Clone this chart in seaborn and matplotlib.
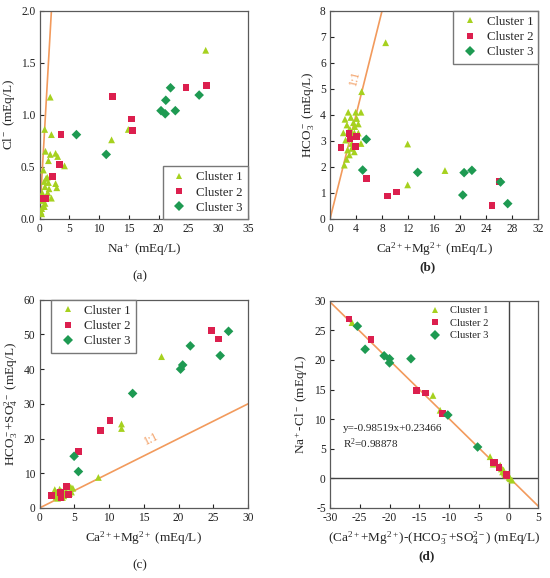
import numpy as np
import pandas as pd
import matplotlib
matplotlib.use("Agg")
import matplotlib.pyplot as plt
import seaborn as sns

# ---------------- data ----------------
CLUSTERS = ["Cluster 1", "Cluster 2", "Cluster 3"]

# (a) Na+ vs Cl-
a_c1_x = [27.9, 1.8, 0.87, 2.0, 14.9, 12.1, 1.0, 1.8, 2.7, 3.05, 1.5, 4.2, 0.65, 1.3, 0.81,
          1.5, 2.7, 2.9, 0.92, 1.6, 0.47, 1.2, 0.64, 0.92, 0.37, 0.81, 0.25, 1.1, 0.36, 0.64,
          0.36, 1.4, 2.0]
a_c1_y = [1.62, 1.17, 0.86, 0.81, 0.86, 0.76, 0.65, 0.62, 0.63, 0.60, 0.56, 0.51, 0.47, 0.40, 0.36,
          0.35, 0.34, 0.30, 0.31, 0.29, 0.25, 0.23, 0.18, 0.15, 0.10, 0.12, 0.07, 0.39, 0.18, 0.12,
          0.05, 0.25, 0.20]
a_c2_x = [24.6, 28.1, 12.3, 15.4, 15.6, 3.6, 3.3, 2.15, 0.5, 0.95]
a_c2_y = [1.26, 1.28, 1.18, 0.96, 0.85, 0.81, 0.52, 0.41, 0.20, 0.20]
a_c3_x = [6.2, 11.2, 20.4, 21.1, 21.2, 22.0, 22.8, 26.8]
a_c3_y = [0.81, 0.62, 1.04, 1.01, 1.14, 1.26, 1.04, 1.19]

# (b) Ca2+ + Mg2+ vs HCO3-
b_c1_x = [8.55, 4.86, 11.93, 17.66, 11.93, 2.8, 3.95, 4.76, 2.3, 3.2, 4.1, 3.6, 2.6, 3.8, 4.35,
          3.07, 2.05, 3.74, 4.35, 4.76, 2.4, 3.33, 2.7, 2.97, 2.56, 2.2, 3.74, 3.33, 3.5, 2.9]
b_c1_y = [6.77, 4.89, 2.88, 1.86, 1.31, 4.1, 4.1, 4.1, 3.83, 3.9, 3.86, 3.7, 3.61, 3.55, 3.65,
          3.44, 3.31, 3.31, 3.3, 2.9, 3.03, 2.9, 2.65, 2.46, 2.29, 2.07, 2.58, 2.71, 3.2, 3.4]
b_c2_x = [2.92, 3.07, 4.1, 3.94, 1.69, 5.58, 8.86, 10.24, 24.9, 25.96]
b_c2_y = [3.29, 3.07, 3.16, 2.78, 2.74, 1.56, 0.88, 1.04, 0.51, 1.43]
b_c3_x = [5.58, 5.02, 13.47, 20.6, 21.8, 20.4, 26.2, 27.3]
b_c3_y = [3.06, 1.88, 1.79, 1.78, 1.87, 0.92, 1.42, 0.59]

# (c) Ca2+ + Mg2+ vs HCO3- + SO4 2-
c_c1_x = [17.56, 11.8, 11.8, 8.47, 4.8, 4.5, 2.2, 2.5, 2.8, 3.2, 3.5, 3.8, 4.3, 2.4, 2.9, 3.6,
          4.6, 2.6, 3.3]
c_c1_y = [43.6, 24.2, 22.9, 8.8, 5.7, 6.0, 5.3, 4.5, 3.8, 4.8, 3.5, 5.0, 4.2, 3.2, 5.4, 4.0,
          4.6, 2.8, 3.0]
c_c2_x = [24.8, 25.8, 10.14, 8.8, 5.6, 3.9, 1.7, 3.0, 3.1, 4.2]
c_c2_y = [51.2, 48.7, 25.1, 22.3, 16.3, 6.3, 3.6, 4.5, 3.1, 4.0]
c_c3_x = [27.2, 21.7, 26.0, 20.6, 20.3, 13.4, 4.98, 5.6]
c_c3_y = [50.9, 46.7, 43.9, 41.2, 40.0, 33.0, 14.9, 10.5]

# (d) (Ca+Mg)-(HCO3+SO4) vs Na-Cl
d_c1_x = [-26.3, -12.7, -11.5, -3.1, -1.4, -0.84, -0.56, 0.3, 0.57, -1.0, -0.7, -0.3, 0.1,
          -1.2, -0.4, 0.2, -2.6]
d_c1_y = [26.3, 14.0, 11.5, 3.66, 2.2, 1.4, 0.67, -0.05, -0.3, 1.1, 0.9, 0.5, 0.2,
          1.6, 0.8, 0.1, 2.4]
d_c2_x = [-26.8, -23.1, -15.4, -13.9, -11.1, -2.6, -2.3, -1.6, -0.25, -0.4]
d_c2_y = [26.9, 23.4, 14.8, 14.4, 10.95, 2.7, 2.75, 1.8, 0.5, 0.6]
d_c3_x = [-25.4, -24.1, -20.9, -20.0, -20.0, -16.4, -10.2, -5.2]
d_c3_y = [25.7, 21.8, 20.7, 20.2, 19.5, 20.2, 10.7, 5.3]

fit_slope = -0.98519
fit_intercept = 0.23466
fit_r2 = 0.98878

# ---------------- style ----------------
sns.set_theme(style="white")
plt.rcParams["font.family"] = ["Liberation Serif", "DejaVu Serif"]
plt.rcParams["mathtext.fontset"] = "custom"
plt.rcParams["mathtext.rm"] = "Liberation Serif"
plt.rcParams["mathtext.it"] = "Liberation Serif:italic"
plt.rcParams["mathtext.bf"] = "Liberation Serif:bold"
plt.rcParams["mathtext.default"] = "regular"
plt.rcParams["axes.unicode_minus"] = False

PALETTE = {"Cluster 1": "#a6d11f", "Cluster 2": "#dc1f4e", "Cluster 3": "#1e9a52"}
MARKERS = {"Cluster 1": "^", "Cluster 2": "s", "Cluster 3": "D"}
LINE_C = "#f29a5c"
SPINE_C = "#5a5a5a"


def make_df(c1x, c1y, c2x, c2y, c3x, c3y):
    frames = []
    for name, xs, ys in zip(CLUSTERS, [c1x, c2x, c3x], [c1y, c2y, c3y]):
        frames.append(pd.DataFrame({"x": xs, "y": ys, "Cluster": name}))
    return pd.concat(frames, ignore_index=True)


def style_ax(ax, xlim, ylim, xticks, yticks, xlabel, ylabel, yfmt=None):
    ax.set_xlim(*xlim)
    ax.set_ylim(*ylim)
    ax.set_xticks(xticks)
    ax.set_yticks(yticks)
    if yfmt:
        ax.set_yticklabels([yfmt.format(v) for v in yticks])
    ax.set_xlabel(xlabel, fontsize=9.5, labelpad=4)
    ax.set_ylabel(ylabel, fontsize=9.5, labelpad=3)
    ax.tick_params(axis="both", which="both", direction="in", length=3, width=0.8,
                   labelsize=8.3, colors="#222222", bottom=True, left=True, top=False, right=False,
                   pad=3)
    for sp in ax.spines.values():
        sp.set_color(SPINE_C)
        sp.set_linewidth(0.9)
        sp.set_visible(True)


def scatter(ax, df):
    sns.scatterplot(data=df, x="x", y="y", hue="Cluster", style="Cluster",
                    hue_order=CLUSTERS, style_order=CLUSTERS,
                    markers=MARKERS, palette=PALETTE, s=24, linewidth=0, ax=ax, zorder=3)


fig = plt.figure(figsize=(5.5, 5.78), dpi=100)
W, H = 550.0, 578.0

ax_a = fig.add_axes([39.5 / W, 1 - 219 / H, 208.5 / W, 208.3 / H])
ax_b = fig.add_axes([330 / W, 1 - 219 / H, 208.3 / W, 208.3 / H])
ax_c = fig.add_axes([39.5 / W, 1 - 508 / H, 208.5 / W, 208.3 / H])
ax_d = fig.add_axes([330 / W, 1 - 508 / H, 208.3 / W, 207.3 / H])

xmm = "Ca$^{2+}$+Mg$^{2+}$ (mEq/L)"

# (a)
df_a = make_df(a_c1_x, a_c1_y, a_c2_x, a_c2_y, a_c3_x, a_c3_y)
ax_a.plot([0, 2], [0, 2], color=LINE_C, lw=1.2, zorder=2)
scatter(ax_a, df_a)
style_ax(ax_a, (0, 35), (0, 2.0), np.arange(0, 36, 5), [0.0, 0.5, 1.0, 1.5, 2.0],
         "Na$^+$ (mEq/L)", "Cl$^-$ (mEq/L)", yfmt="{:.1f}")
sns.move_legend(ax_a, "lower right", title=None, frameon=True, fancybox=False,
                edgecolor="#777777", fontsize=9.3, borderaxespad=0, labelspacing=0.25,
                handlelength=1.8, handletextpad=0.4, borderpad=0.4, framealpha=1)

# (b)
df_b = make_df(b_c1_x, b_c1_y, b_c2_x, b_c2_y, b_c3_x, b_c3_y)
ax_b.plot([0, 8], [0, 8], color=LINE_C, lw=1.2, zorder=2)
ax_b.text(3.8, 5.4, "1:1", color=LINE_C, fontsize=8.5, rotation=76, ha="center", va="center")
scatter(ax_b, df_b)
style_ax(ax_b, (0, 32), (0, 8), np.arange(0, 33, 4), np.arange(0, 9, 1),
         xmm, "HCO$_3^-$ (mEq/L)")
sns.move_legend(ax_b, "upper right", title=None, frameon=True, fancybox=False,
                edgecolor="#777777", fontsize=9.3, borderaxespad=0, labelspacing=0.25,
                handlelength=1.8, handletextpad=0.4, borderpad=0.4, framealpha=1)

# (c)
df_c = make_df(c_c1_x, c_c1_y, c_c2_x, c_c2_y, c_c3_x, c_c3_y)
ax_c.plot([0, 30], [0, 30], color=LINE_C, lw=1.2, zorder=2)
ax_c.text(16.1, 19.9, "1:1", color=LINE_C, fontsize=8.5, rotation=26.5, ha="center", va="center")
scatter(ax_c, df_c)
style_ax(ax_c, (0, 30), (0, 60), np.arange(0, 31, 5), np.arange(0, 61, 10),
         xmm, "HCO$_3^-$+SO$_4^{2-}$ (mEq/L)")
sns.move_legend(ax_c, "upper left", bbox_to_anchor=(0.054, 1.0), title=None, frameon=True,
                fancybox=False, edgecolor="#777777", fontsize=9.3, borderaxespad=0,
                labelspacing=0.25, handlelength=1.8, handletextpad=0.4, borderpad=0.4,
                framealpha=1)

# (d)
df_d = make_df(d_c1_x, d_c1_y, d_c2_x, d_c2_y, d_c3_x, d_c3_y)
ax_d.axvline(0, color="#444444", lw=1.0, zorder=1)
ax_d.axhline(0, color="#444444", lw=1.0, zorder=1)
fx = np.array([-30.0, 5.0])
ax_d.plot(fx, fit_slope * fx + fit_intercept, color=LINE_C, lw=1.2, zorder=2)
scatter(ax_d, df_d)
style_ax(ax_d, (-30, 5), (-5, 30), np.arange(-30, 6, 5), np.arange(-5, 31, 5),
         "(Ca$^{2+}$+Mg$^{2+}$)-(HCO$_3^-$+SO$_4^{2-}$) (mEq/L)", "Na$^+$-Cl$^-$ (mEq/L)")
ax_d.text(-27.8, 8.45, "y={:.5f}x+{:.5f}".format(fit_slope, fit_intercept), fontsize=8,
          ha="left", va="center")
ax_d.text(-27.8, 5.9, "R$^2$={:.5f}".format(fit_r2), fontsize=8, ha="left", va="center")
sns.move_legend(ax_d, "upper left", bbox_to_anchor=(0.44, 0.995), title=None, frameon=False,
                fontsize=7.6, borderaxespad=0, labelspacing=0.3, handlelength=1.8,
                handletextpad=0.5)

# captions
fig.text(140 / W, 1 - 276 / H, "(a)", fontsize=9.5, ha="center", va="center")
fig.text(427 / W, 1 - 267 / H, "(b)", fontsize=9.5, ha="center", va="center", fontweight="bold")
fig.text(140 / W, 1 - 565 / H, "(c)", fontsize=9.5, ha="center", va="center")
fig.text(427 / W, 1 - 556 / H, "(d)", fontsize=9.5, ha="center", va="center", fontweight="bold")

fig.savefig("out.png", dpi=100)
